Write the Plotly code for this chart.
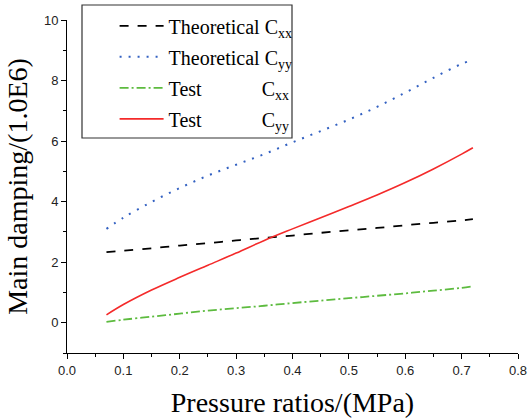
import plotly.graph_objects as go

pressure = [0.07, 0.10, 0.15, 0.20, 0.25, 0.30, 0.35, 0.40, 0.45, 0.50, 0.55, 0.60, 0.65, 0.70, 0.72]
theo_cxx = [2.33, 2.38, 2.46, 2.55, 2.63, 2.72, 2.80, 2.88, 2.97, 3.05, 3.13, 3.22, 3.30, 3.38, 3.42]
theo_cyy = [3.10, 3.47, 3.99, 4.45, 4.86, 5.22, 5.57, 5.96, 6.33, 6.71, 7.13, 7.60, 8.09, 8.55, 8.68]
test_cxx = [0.03, 0.10, 0.20, 0.30, 0.40, 0.48, 0.56, 0.65, 0.73, 0.81, 0.89, 0.97, 1.06, 1.15, 1.20]
test_cyy = [0.26, 0.60, 1.08, 1.50, 1.90, 2.30, 2.72, 3.10, 3.47, 3.84, 4.22, 4.63, 5.08, 5.57, 5.78]

SERIF = "Liberation Serif"
SANS = "Liberation Sans"
NB = "\u00a0"

series = [
    ("Theoretical C<sub>xx</sub>", theo_cxx, "black", "dash", 1.8),
    ("Theoretical C<sub>yy</sub>", theo_cyy, "#3361C2", "2px,7px", 2.0),
    ("Test" + NB * 12 + "C<sub>xx</sub>", test_cxx, "#5DBB3F", "9px,3px,2px,3px", 1.8),
    ("Test" + NB * 12 + "C<sub>yy</sub>", test_cyy, "#F42A2A", "solid", 1.6),
]

fig = go.Figure()
for i, (name, vals, color, dash, w) in enumerate(series):
    fig.add_trace(go.Scatter(
        x=pressure, y=vals, mode="lines", name=name,
        line=dict(color=color, dash=dash, width=w, shape="spline"),
        legendgroup=f"g{i}",
    ))

fig.update_layout(
    width=530, height=418,
    margin=dict(l=67, r=12, t=20, b=65, autoexpand=False),
    paper_bgcolor="white", plot_bgcolor="white",
    font=dict(family=SERIF, color="black"),
    showlegend=True,
    legend=dict(
        x=0.09 + 7 / 451, y=1.035 + 2 / 333, xanchor="left", yanchor="top",
        font=dict(family=SERIF, size=20, color="black"),
        bgcolor="rgba(0,0,0,0)", borderwidth=0,
        tracegroupgap=2, traceorder="grouped",
        itemwidth=44,
    ),
    shapes=[dict(
        type="rect", xref="paper", yref="paper",
        x0=(82 - 67) / 451, x1=(292 - 67) / 451,
        y0=(353 - 138) / 333, y1=(353 - 5) / 333,
        line=dict(color="#333333", width=1.2), fillcolor="rgba(0,0,0,0)",
    )],
    xaxis=dict(
        range=[0, 0.8], dtick=0.1, tick0=0, tickformat=".1f",
        showgrid=False, zeroline=False, automargin=False,
        showline=True, linecolor="black", linewidth=1,
        ticks="outside", ticklen=5, tickwidth=1, tickcolor="black",
        minor=dict(dtick=0.05, ticks="outside", ticklen=3, tickcolor="black", showgrid=False),
        tickfont=dict(family=SANS, size=13, color="#222222"),
        title=dict(text="Pressure ratios/(MPa)", font=dict(family=SERIF, size=28, color="black"), standoff=15),
    ),
    yaxis=dict(
        range=[-1, 10], dtick=2, tick0=0,
        showgrid=False, zeroline=False, automargin=False,
        showline=True, linecolor="black", linewidth=1,
        ticks="outside", ticklen=5, tickwidth=1, tickcolor="black",
        minor=dict(dtick=1, tick0=0, ticks="outside", ticklen=3, tickcolor="black", showgrid=False),
        tickfont=dict(family=SANS, size=13, color="#222222"),
        title=dict(text="Main damping/(1.0E6)", font=dict(family=SERIF, size=28, color="black"), standoff=8),
    ),
)

fig.write_html("out.html", config={"displayModeBar": False},
               post_script="document.body.style.margin='0';")
